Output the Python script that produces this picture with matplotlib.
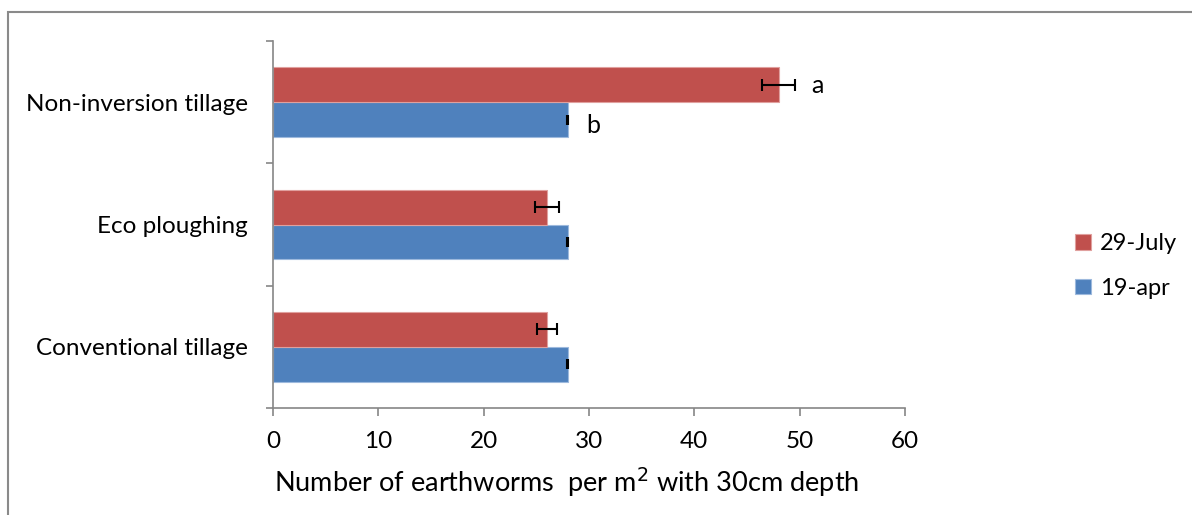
import numpy as np
import matplotlib.pyplot as plt
from matplotlib.patches import Rectangle

# dados
categorias = ["Conventional tillage", "Eco ploughing", "Non-inversion tillage"]
julho = [26, 26, 48]
julho_erro = [0.95, 1.15, 1.6]
abril = [28, 28, 28]
abril_erro = [0.05, 0.05, 0.05]

plt.rcParams['font.family'] = ['Lato', 'DejaVu Sans']

fig = plt.figure(figsize=(11.92, 5.15), dpi=100)
ax = fig.add_axes([273 / 1192, 1 - 408 / 515, 632 / 1192, 367 / 515])

# moldura externa do gráfico
fig.patches.append(Rectangle((8 / 1192, -0.1), 1.2, 1.1 - 12 / 515, transform=fig.transFigure,
                             fill=False, edgecolor='#8a8a8a', linewidth=1.5))

y = np.arange(len(categorias))
h = 0.285
cinza = '#868686'

ax.barh(y - h / 2, abril, height=h, color='#4F81BD', edgecolor='#9DB9DD', linewidth=0.8, label='19-apr')
ax.barh(y + h / 2, julho, height=h, color='#C0504D', edgecolor='#E0A09E', linewidth=0.8, label='29-July')
ax.errorbar(julho, y + h / 2, xerr=julho_erro, fmt='none', ecolor='black', elinewidth=1.5,
            capsize=4.3, capthick=1.5)
ax.errorbar(abril, y - h / 2, xerr=abril_erro, fmt='none', ecolor='black', elinewidth=1.5,
            capsize=3.5, capthick=1.5)

ax.text(julho[2] + 3.1, 2 + h / 2 - 0.01, "a", fontsize=18, va='center', ha='left')
ax.text(abril[2] + 1.7, 2 - h / 2 - 0.05, "b", fontsize=18, va='center', ha='left')

ax.set_xlim(0, 60)
ax.set_ylim(-0.5, 2.5)
ax.set_xticks(np.arange(0, 61, 10))
ax.set_yticks(y)
ax.set_yticklabels(categorias)
ax.set_yticks(np.arange(-0.5, 2.6, 1), minor=True)
ax.tick_params(axis='y', which='major', length=0, pad=18, labelsize=17.5)
ax.tick_params(axis='y', which='minor', length=5, direction='out', color=cinza, width=1.2)
ax.tick_params(axis='x', length=6, direction='out', color=cinza, width=1.2, labelsize=17.5, pad=10.5)

for lado in ['top', 'right']:
    ax.spines[lado].set_visible(False)
for lado in ['left', 'bottom']:
    ax.spines[lado].set_color(cinza)
    ax.spines[lado].set_linewidth(1.2)

ax.set_xlabel("Number of earthworms  per m$^{2}$ with 30cm depth", fontsize=19.5, labelpad=10,
              x=(567 - 273) / 632)

handles, labels = ax.get_legend_handles_labels()
ax.legend(handles[::-1], labels[::-1], loc='center left', bbox_to_anchor=(1.236, 0.387), frameon=False,
          fontsize=17, handlelength=0.65, handleheight=0.65, handletextpad=0.4, labelspacing=1.0)

fig.savefig("out.png", dpi=100)
